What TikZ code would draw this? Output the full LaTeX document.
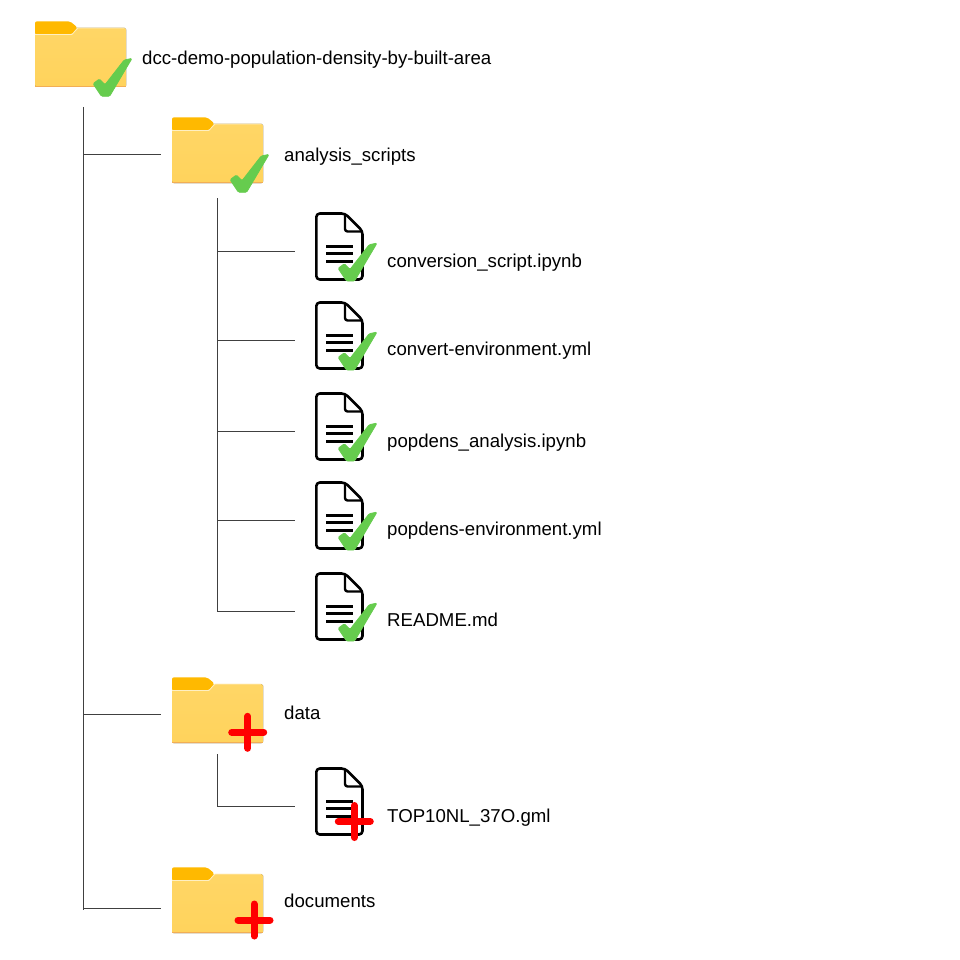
\documentclass[tikz,border=0pt]{standalone}
\usepackage{fontspec}
\setmainfont{Liberation Sans}
\definecolor{fbody}{HTML}{FFD666}
\definecolor{fbodylow}{HTML}{FFD35C}
\definecolor{ftab}{HTML}{FFB900}
\definecolor{fedge}{HTML}{F2AE55}
\definecolor{tickgreen}{HTML}{66CC4E}
\definecolor{plusred}{HTML}{FF0000}
\tikzset{
  tree/.style={draw=black!75,line width=0.8pt},
  label/.style={anchor=base west,inner sep=0pt,font=\fontsize{18.64}{22}\selectfont,text=black},
  folder/.pic={
    \coordinate (-in) at (-11,37);
    \fill[top color=fbody,bottom color=fbodylow,rounded corners=1.5] (0,7) -- (0,66) -- (91,66) -- (91,7) -- cycle;
    \fill[ftab,rounded corners=2] (0,13.3) -- (0,0.3) -- (35,0.3) -- (42.3,6.3) -- (36.7,13.3) -- cycle;
    \draw[white!60!fbody,line width=0.7pt] (0,13.5) -- (36.9,13.5) -- (43,7) -- (89,7);
    \fill[fedge] (0,64.8) rectangle (91,66.4);
  },
  document/.pic={
    \coordinate (-in) at (-20,39);
    \draw[black,line width=2.6pt,line join=round,line cap=round,rounded corners=3.5] (15,1.5) -- (30,1.5) -- (47.5,19) -- (47.5,67.5) -- (1.3,67.5) -- (1.3,1.5) -- (15,1.5);
    \draw[black,line width=2.4pt,line join=round,rounded corners=2.5] (30,2) -- (30,19.5) -- (47,19.5);
    \draw[black,line width=2.5pt] (11,34.3) -- (37.7,34.3) (11,41.5) -- (37.7,41.5) (11,49.7) -- (37.7,49.7);
  },
  tick/.pic={
    \fill[tickgreen,draw=tickgreen,line width=0.8pt,line join=round,rounded corners=1.2] (0.4,25.7) -- (6.7,21) -- (12.3,26.7) -- (31.5,2) -- (39.3,0.4) -- (16.9,38.3) -- (8.8,38.3) -- cycle;
  },
  plus/.pic={
    \draw[plusred,line width=7pt,line cap=round] (-16,0) -- (16,0) (0,-16) -- (0,16);
  }
}
\begin{document}
\begin{tikzpicture}[x=1pt,y=-1pt]
\useasboundingbox[fill=white] (0,0) rectangle (960,960);
% folders and documents
\pic (root) at (35,21) {folder};
\pic (scripts) at (172,117) {folder};
\pic (data) at (172,677) {folder};
\pic (docs) at (172,867) {folder};
\pic (conv) at (315,212) {document};
\pic (convenv) at (315,301) {document};
\pic (popd) at (315,392) {document};
\pic (popdenv) at (315,481) {document};
\pic (readme) at (315,572) {document};
\pic (top) at (315,767) {document};
% status marks
\pic at (92.7,58) {tick};
\pic at (229.7,154) {tick};
\pic at (337.7,242.7) {tick};
\pic at (337.7,331.7) {tick};
\pic at (337.7,422.7) {tick};
\pic at (337.7,511.7) {tick};
\pic at (337.7,602.7) {tick};
\pic at (247.7,732.3) {plus};
\pic at (254,920) {plus};
\pic at (354.3,821.5) {plus};
% labels
\node[label] (lroot) at (142,65) {dcc-demo-population-density-by-built-area};
\node[label] (lscripts) at (284,161) {analysis\_scripts};
\node[label] (lconv) at (387,267) {conversion\_script.ipynb};
\node[label] (lconvenv) at (387,355) {convert-environment.yml};
\node[label] (lpopd) at (387,447) {popdens\_analysis.ipynb};
\node[label] (lpopdenv) at (387,535) {popdens-environment.yml};
\node[label] (lreadme) at (387,626) {README.md};
\node[label] (ldata) at (284,719) {data};
\node[label] (ltop) at (387,822) {TOP10NL\_37O.gml};
\node[label] (ldocs) at (284,907) {documents};
% tree
\coordinate (t1top) at (83.5,107);
\coordinate (t1end) at (83.5,910);
\coordinate (t2top) at (217.5,198);
\coordinate (t3top) at (217.5,754);
\coordinate (docsin) at (161,908);
\draw[tree] (t1top) -- (t1end);
\draw[tree] (t1top |- docsin) -- (docsin);
\draw[tree] (t1top |- scripts-in) -- (scripts-in);
\draw[tree] (t1top |- data-in) -- (data-in);
\draw[tree] (t2top) -- (t2top |- readme-in) -- (readme-in);
\draw[tree] (t2top |- conv-in) -- (conv-in);
\draw[tree] (t2top |- convenv-in) -- (convenv-in);
\draw[tree] (t2top |- popd-in) -- (popd-in);
\draw[tree] (t2top |- popdenv-in) -- (popdenv-in);
\draw[tree] (t3top) -- (t3top |- top-in) -- (top-in);
\end{tikzpicture}
\end{document}
